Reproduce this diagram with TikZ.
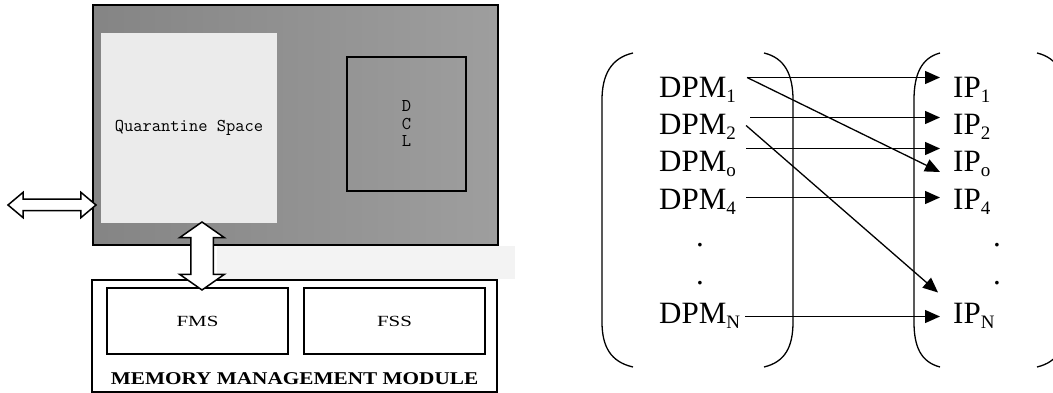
\documentclass[tikz,border=0pt]{standalone}
\usepackage{fontspec}
\setmainfont{Liberation Serif}
\newfontfamily\widefont[FakeStretch=1.35]{Liberation Serif}
\newfontfamily\headfont[FakeStretch=1.18]{Liberation Serif}
\usetikzlibrary{shapes.arrows,arrows.meta}
\newcommand{\lowidx}[1]{\raisebox{-5pt}{\fontsize{19}{19}\selectfont #1}}
\definecolor{qsgray}{HTML}{EBEBEB}
\definecolor{haze}{HTML}{F3F3F3}

\tikzset{
  box/.style={draw, inner sep=0pt},
  word/.style={anchor=base west, inner sep=0pt, font=\fontsize{31}{31}\selectfont},
  link/.style={-{Triangle[length=15pt,width=13pt]}, line width=1.3pt},
  paren/.style={line width=1.3pt},
  fat/.style={double arrow, draw, fill=white, line width=1.5pt, inner xsep=0pt, minimum width=1pt}
}

\begin{document}
\begin{tikzpicture}[x=1pt,y=-1pt]
  \useasboundingbox (0,0) rectangle (1053,393);

  % ---- left: guest memory
  \fill[haze] (217,246) rectangle (515,279);
  \node[box, line width=1.5pt, minimum width=405pt, minimum height=240pt,
        left color=black!48, middle color=black!66, right color=black!38] (core) at (295.5,125) {};
  \node[inner sep=0pt, fill=qsgray, minimum width=176pt, minimum height=190pt,
        font=\ttfamily\fontsize{18}{18}\selectfont] (qs) at (189,128) {Quarantine Space};
  \node[box, line width=2pt, minimum width=119pt, minimum height=134pt, align=center,
        font=\ttfamily\fontsize{18}{17.5}\selectfont] (dcl) at (406.5,124) {D\\C\\L};

  \node[box, line width=1.5pt, minimum width=405pt, minimum height=112pt] (mmm) at (294.5,336) {};
  \node[box, line width=2pt, minimum width=181pt, minimum height=66pt,
        font=\widefont\fontsize{15.5}{15.5}\selectfont] (fms) at (197.5,321) {FMS};
  \node[box, line width=2pt, minimum width=181pt, minimum height=66pt,
        font=\widefont\fontsize{15.5}{15.5}\selectfont] (fss) at (394.5,321) {FSS};
  \node[font=\headfont\bfseries\fontsize{18}{18}\selectfont, inner sep=0pt] (mmmtag) at (294.5,379)
    {MEMORY MANAGEMENT MODULE};

  \node[fat, minimum height=88pt, inner ysep=5pt, double arrow head extend=7pt,
        double arrow tip angle=80] (ext) at (52,205) {};
  \node[fat, rotate=90, minimum height=68pt, inner ysep=10.5pt, double arrow head extend=11pt,
        double arrow tip angle=110] (bus) at (202,256) {};

  % ---- right: mapping DPM -> IP
  \draw[paren] (633,53) .. controls (611,58) and (602,75) .. (602,100) -- (602,322)
    .. controls (602,347) and (611,362) .. (633,367);
  \draw[paren] (764,53) .. controls (785,58) and (793,75) .. (793,100) -- (793,322)
    .. controls (793,347) and (785,362) .. (764,367);
  \draw[paren] (940,53) .. controls (921,58) and (914,75) .. (914,100) -- (914,322)
    .. controls (914,347) and (921,362) .. (940,367);
  \draw[paren] (1037,53) .. controls (1058,58) and (1066,75) .. (1066,100) -- (1066,322)
    .. controls (1066,347) and (1058,362) .. (1037,367);

  \node[word] (d1) at (659,98) {DPM\lowidx{1}};
  \node[word] (d2) at (659,135) {DPM\lowidx{2}};
  \node[word] (do) at (659,172) {DPM\lowidx{o}};
  \node[word] (d4) at (659,210) {DPM\lowidx{4}};
  \node[word] (dd1) at (696,247) {.};
  \node[word] (dd2) at (696,284) {.};
  \node[word] (dN) at (659,323) {DPM\lowidx{N}};

  \node[word] (i1) at (953,98) {IP\lowidx{1}};
  \node[word] (i2) at (953,135) {IP\lowidx{2}};
  \node[word] (io) at (953,172) {IP\lowidx{o}};
  \node[word] (i4) at (953,210) {IP\lowidx{4}};
  \node[word] (id1) at (993,247) {.};
  \node[word] (id2) at (993,284) {.};
  \node[word] (iN) at (953,323) {IP\lowidx{N}};

  \draw[link] ([xshift=11pt]d1.north east) -- ([xshift=-13pt]i1.north west);
  \draw[link] ([xshift=11pt]d1.north east) -- ([xshift=-13pt]io.base west);
  \draw[link] ([xshift=14pt,yshift=-3pt]d2.north east) -- ([xshift=-13pt,yshift=-3pt]i2.north west);
  \draw[link] ([xshift=10pt,yshift=-11pt]d2.north east) -- ([xshift=-15pt,yshift=10pt]iN.north west);
  \draw[link] ([xshift=10pt,yshift=3pt]do.north east) -- ([xshift=-13pt,yshift=3pt]io.north west);
  \draw[link] ([xshift=10pt,yshift=-8pt]d4.north east) -- ([xshift=-13pt,yshift=-8pt]i4.north west);
  \draw[link] ([xshift=5pt,yshift=-14pt]dN.north east) -- ([xshift=-13pt,yshift=-14pt]iN.north west);
\end{tikzpicture}
\end{document}
